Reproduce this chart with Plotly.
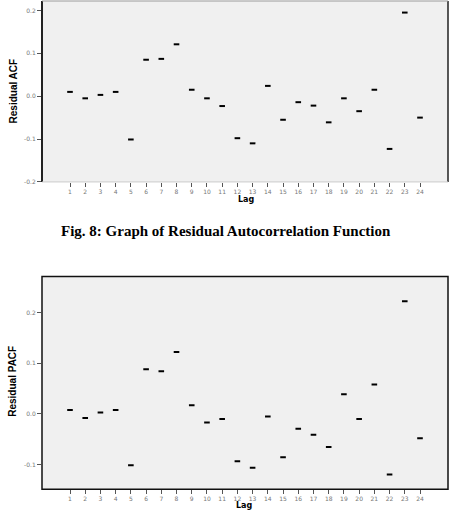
import plotly.graph_objects as go

lags = list(range(1, 25))
acf_values = [0.010, -0.005, 0.003, 0.010, -0.101, 0.085, 0.087, 0.121, 0.015, -0.005, -0.023, -0.098,
              -0.110, 0.024, -0.055, -0.014, -0.022, -0.061, -0.005, -0.035, 0.015, -0.123, 0.195, -0.050]
pacf_values = [0.008, -0.008, 0.003, 0.008, -0.101, 0.088, 0.084, 0.122, 0.017, -0.017, -0.010, -0.093,
               -0.106, -0.005, -0.085, -0.029, -0.041, -0.065, 0.039, -0.010, 0.058, -0.119, 0.222, -0.048]
acf_ticks = [0.2, 0.1, 0.0, -0.1, -0.2]
acf_ticklabels = ["0.2", "0.1", "0.0", "-0.1", "-0.2"]
pacf_ticks = [0.2, 0.1, 0.0, -0.1]
pacf_ticklabels = ["0.2", "0.1", "0.0", "-0.1"]

W, H = 454, 514
def py(p):
    return 1 - p / H

x0, x1 = 42 / W, 448 / W
top_dom = [py(183), py(1)]
bot_dom = [py(492), py(278)]

fig = go.Figure()
mk = dict(symbol="line-ew", size=4, line=dict(color="black", width=2), color="black")
fig.add_trace(go.Scatter(x=lags, y=acf_values, mode="markers", marker=mk, xaxis="x", yaxis="y", showlegend=False))
fig.add_trace(go.Scatter(x=lags, y=pacf_values, mode="markers", marker=mk, xaxis="x2", yaxis="y2", showlegend=False))

tickfont = dict(family="DejaVu Sans", size=6, color="#777")
xcommon = dict(range=[-0.84, 25.84], tickvals=lags, ticktext=[str(l) for l in lags], tickfont=tickfont,
               ticks="outside", ticklen=4, tickcolor="#555", showgrid=False, zeroline=False)
ytitle_font = dict(family="Liberation Sans Narrow, Liberation Sans", size=10, color="black")
fig.update_layout(
    width=W, height=H, margin=dict(l=0, r=0, t=0, b=0),
    paper_bgcolor="white", plot_bgcolor="#f0f0f0",
    xaxis=dict(domain=[x0, x1], anchor="y", **xcommon),
    xaxis2=dict(domain=[x0, x1], anchor="y2", **xcommon),
    yaxis=dict(domain=top_dom, anchor="x", range=[-0.2, 0.222], tickvals=acf_ticks, ticktext=acf_ticklabels,
               tickfont=tickfont, ticks="outside", ticklen=4, tickcolor="#555", showgrid=False, zeroline=False),
    yaxis2=dict(domain=bot_dom, anchor="x2", range=[-0.148, 0.271], tickvals=pacf_ticks, ticktext=pacf_ticklabels,
                tickfont=tickfont, ticks="outside", ticklen=4, tickcolor="#555", showgrid=False, zeroline=False),
)

shapes = [
    dict(type="line", xref="paper", yref="paper", x0=x0, x1=x0, y0=top_dom[0], y1=top_dom[1], line=dict(color="#222", width=2)),
    dict(type="line", xref="paper", yref="paper", x0=x1, x1=x1, y0=top_dom[0], y1=top_dom[1], line=dict(color="#222", width=1.5)),
    dict(type="line", xref="paper", yref="paper", x0=x0, x1=x1, y0=top_dom[1], y1=top_dom[1], line=dict(color="#999", width=1)),
    dict(type="line", xref="paper", yref="paper", x0=x0, x1=x1, y0=top_dom[0], y1=top_dom[0], line=dict(color="#ccc", width=1)),
    dict(type="rect", xref="paper", yref="paper", x0=x0, x1=x1, y0=bot_dom[0], y1=bot_dom[1], line=dict(color="#111", width=1.5)),
]
fig.update_layout(shapes=shapes)

lagfont = dict(family="DejaVu Sans", size=8, color="black")
fig.add_annotation(text="<b>Lag</b>", xref="paper", yref="paper", x=246 / W, y=py(201), showarrow=False,
                   xanchor="center", yanchor="middle", font=lagfont)
fig.add_annotation(text="<b>Lag</b>", xref="paper", yref="paper", x=244 / W, y=py(508), showarrow=False,
                   xanchor="center", yanchor="middle", font=lagfont)
fig.add_annotation(text="<b>Residual ACF</b>", xref="paper", yref="paper", x=13 / W, y=py(92), showarrow=False,
                   textangle=-90, xanchor="center", yanchor="middle", font=ytitle_font)
fig.add_annotation(text="<b>Residual PACF</b>", xref="paper", yref="paper", x=13 / W, y=py(384), showarrow=False,
                   textangle=-90, xanchor="center", yanchor="middle", font=ytitle_font)
fig.add_annotation(text="<b>Fig. 8: Graph of Residual Autocorrelation Function</b>", xref="paper", yref="paper",
                   x=226 / W, y=py(232), showarrow=False, xanchor="center", yanchor="middle",
                   font=dict(family="Liberation Serif", size=15, color="black"))

fig.write_html("out.html")
